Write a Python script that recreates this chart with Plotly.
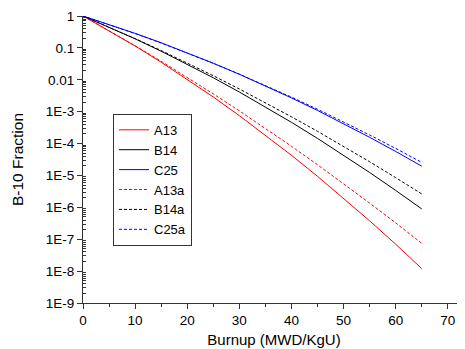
import plotly.graph_objects as go

burnup = [0, 5, 10, 15, 20, 25, 30, 35, 40, 45, 50, 55, 60, 65]

A13 = [1, 0.348, 0.1148, 0.0356, 0.01042, 2.88e-3, 7.50e-4, 1.85e-4, 4.29e-5, 9.38e-6, 1.94e-6, 3.78e-7, 6.95e-8, 1.20e-8]
B14 = [1, 0.449, 0.192, 0.0787, 0.0309, 0.01156, 4.14e-3, 1.42e-3, 4.63e-4, 1.45e-4, 4.34e-5, 1.24e-5, 3.39e-6, 8.91e-7]
C25 = [1, 0.546, 0.286, 0.145, 0.0705, 0.0330, 0.0149, 6.47e-3, 2.70e-3, 1.09e-3, 4.22e-4, 1.57e-4, 5.65e-5, 1.95e-5]
A13a = [1, 0.348, 0.117, 0.0380, 0.0119, 3.61e-3, 1.06e-3, 3.00e-4, 8.20e-5, 2.17e-5, 5.52e-6, 1.36e-6, 3.25e-7, 7.41e-8]
B14a = [1, 0.450, 0.196, 0.0826, 0.0338, 0.0134, 5.14e-3, 1.91e-3, 6.90e-4, 2.42e-4, 8.17e-5, 2.69e-5, 8.53e-6, 2.63e-6]
C25a = [1, 0.538, 0.281, 0.142, 0.0693, 0.0328, 0.0150, 6.67e-3, 2.86e-3, 1.19e-3, 4.79e-4, 1.86e-4, 7.03e-5, 2.57e-5]

y_tickvals = [1, 0.1, 0.01, 1e-3, 1e-4, 1e-5, 1e-6, 1e-7, 1e-8, 1e-9]
y_ticktext = ["1", "0.1", "0.01", "1E-3", "1E-4", "1E-5", "1E-6", "1E-7", "1E-8", "1E-9"]
x_tickvals = [0, 10, 20, 30, 40, 50, 60, 70]

series = [
    ("A13", A13, "#FF0000", "solid"),
    ("B14", B14, "#000000", "solid"),
    ("C25", C25, "#0000FF", "solid"),
    ("A13a", A13a, "#FF0000", "dash"),
    ("B14a", B14a, "#000000", "dash"),
    ("C25a", C25a, "#0000FF", "dash"),
]

fig = go.Figure()
for name, vals, color, dash in series:
    fig.add_trace(go.Scatter(
        x=burnup, y=vals, name=name, mode="lines",
        line=dict(color=color, width=1, dash=("3px,2px" if dash == "dash" else "solid")),
    ))

minor_vals = [k * 10.0 ** e for e in range(-9, 0) for k in range(2, 10)]

font = "Liberation Sans, Arial, sans-serif"
fig.update_layout(
    width=457, height=341,
    margin=dict(l=75, r=0, t=8, b=46),
    paper_bgcolor="white", plot_bgcolor="white",
    font=dict(family=font, size=13, color="black"),
    showlegend=True,
    legend=dict(
        x=0.0785, y=0.659, xanchor="left", yanchor="top",
        bordercolor="#333333", borderwidth=1, bgcolor="white",
        font=dict(family=font, size=13, color="black"),
        tracegroupgap=0, itemwidth=30,
    ),
    xaxis=dict(
        range=[0, 73.3], tickmode="array", tickvals=x_tickvals,
        showline=True, linecolor="#333333", linewidth=1,
        ticks="outside", ticklen=5, tickcolor="#333333",
        showgrid=False, zeroline=False,
        minor=dict(tickvals=[5, 15, 25, 35, 45, 55, 65], ticks="outside", ticklen=3, tickcolor="#333333"),
        title=dict(text="Burnup (MWD/KgU)", font=dict(family=font, size=15), standoff=7),
        tickfont=dict(family=font, size=13.5),
    ),
    yaxis=dict(
        type="log", range=[-9, 0], tickmode="array",
        tickvals=y_tickvals, ticktext=y_ticktext,
        showline=True, linecolor="#333333", linewidth=1,
        ticks="outside", ticklen=5, tickcolor="#333333",
        showgrid=False, zeroline=False,
        minor=dict(tickvals=minor_vals, ticks="inside", ticklen=3, tickcolor="#333333"),
        title=dict(text="B-10 Fraction", font=dict(family=font, size=15.5), standoff=18),
        tickfont=dict(family=font, size=13.5),
    ),
)

fig.write_html("out.html")
